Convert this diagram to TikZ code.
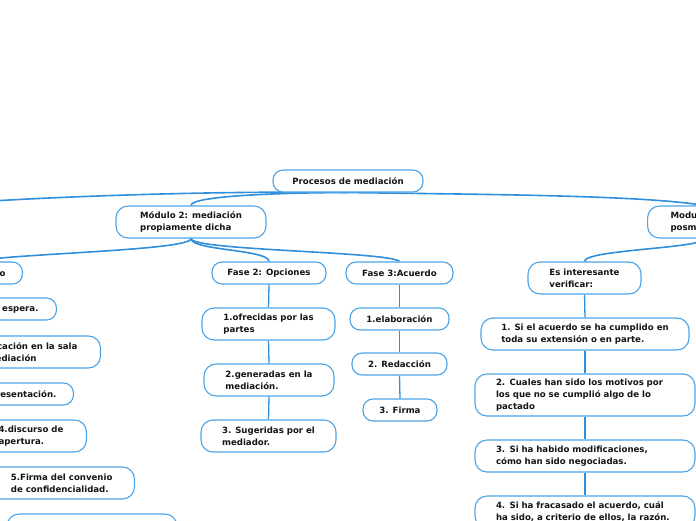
\documentclass[tikz,border=0pt]{standalone}
\usepackage{fontspec}
\setmainfont{DejaVu Sans}
\usetikzlibrary{backgrounds}
\definecolor{bblue}{HTML}{4AA3E6}
\definecolor{lblue}{HTML}{2F8FDC}
\definecolor{tblack}{HTML}{141414}
\begin{document}
\begin{tikzpicture}[x=1pt,y=-1pt,
  bx/.style={draw=bblue, line width=1.1pt, fill=white, rounded corners=12pt, align=left,
    inner xsep=5pt, inner ysep=1pt, text=tblack,
    font=\bfseries\fontsize{8.6}{11.7}\selectfont},
  sm/.style={bx, rounded corners=10pt, minimum height=22pt},
  lg/.style={bx, minimum height=32pt},
  wide/.style={bx, text width=178pt, inner xsep=21pt},
  conn/.style={draw=lblue, line width=1.6pt},
  vconn/.style={draw=lblue, line width=1.3pt}]
\useasboundingbox (0,0) rectangle (696,520);
% level 0 and 1
\node[sm, minimum width=150pt] (root) at (348,181) {Procesos de mediación};
\coordinate (m1) at (-80,206);
\node[lg, minimum width=150pt] (m2) at (191,222) {Módulo 2: mediación\\propiamente dicha};
\node[lg, anchor=west, inner xsep=23pt] (m3) at (647,222) {Modulo 3:\\posmediación};
% phases
\node[sm, anchor=east, inner xsep=17pt] (f1) at (23,273) {Fase 1: Inicio};
\node[sm, minimum width=114pt] (f2) at (269,273) {Fase 2: Opciones};
\node[sm, minimum width=107pt] (f3) at (399.5,273) {Fase 3:Acuerdo};
\node[lg, minimum width=113pt] (es) at (584.5,278) {Es interesante\\verificar:};
% phase 1 items
\node[sm, anchor=east, inner xsep=18pt] (p1) at (57,309) {1.Sala de espera.};
\node[lg, anchor=east, inner xsep=23pt] (p2) at (101,352) {2.Ubicación en la sala\\de mediación};
\node[sm, anchor=east, inner xsep=17pt] (p3) at (74,394) {3.Presentación.};
\node[lg, anchor=east, inner xsep=23pt] (p4) at (87,436) {4.discurso de\\apertura.};
\node[lg, anchor=east, inner xsep=22pt] (p5) at (135,483) {5.Firma del convenio\\de confidencialidad.};
\node[lg, minimum width=170pt] (p6) at (92,530) {};
% phase 2 items
\node[lg, minimum width=133pt] (o1) at (268.5,324) {1.ofrecidas por las\\partes};
\node[lg, minimum width=130pt] (o2) at (269,380) {2.generadas en la\\mediación.};
\node[lg, minimum width=135pt] (o3) at (268.5,436) {3. Sugeridas por el\\mediador.};
% phase 3 items
\node[sm, minimum width=99pt] (a1) at (399.5,319) {1.elaboración};
\node[sm, minimum width=95pt] (a2) at (399.5,364) {2. Redacción};
\node[sm, minimum width=74pt] (a3) at (400,410) {3. Firma};
% verification items
\node[lg, minimum width=208pt] (v1) at (585,334) {1. Si el acuerdo se ha cumplido en\\toda su extensión o en parte.};
\node[wide, minimum height=42pt] (v2) at (585,395) {2. Cuales han sido los motivos por\\los que no se cumplió algo de lo\\pactado};
\node[wide, minimum height=32pt] (v3) at (585,456) {3. Si ha habido modificaciones,\\cómo han sido negociadas.};
\node[wide, minimum height=32pt] (v4) at (585,512) {4. Si ha fracasado el acuerdo, cuál\\ha sido, a criterio de ellos, la razón.};
% connectors
\begin{scope}[on background layer]
\draw[conn] (root.south) .. controls +(-120,-2) and +(120,-10) .. (m1);
\draw[conn] (root.south) .. controls +(-60,0) and +(0,-10) .. (m2.north);
\draw[conn] (root.south) .. controls +(150,2) and +(-60,-10) .. (m3.north);
\draw[conn] (m2.south) .. controls +(0,12) and +(40,-8) .. (f1.north);
\draw[conn] (m2.south) .. controls +(0,12) and +(0,-12) .. (f2.north);
\draw[conn] (m2.south) .. controls +(0,12) and +(-10,-10) .. (f3.north);
\draw[conn] (m3.south) .. controls +(0,10) and +(0,-12) .. (es.north);
\draw[vconn] (f2.south) -- (o1.north);
\draw[vconn] (o1.south) -- (o2.north);
\draw[vconn] (o2.south) -- (o3.north);
\draw[vconn] (f3.south) -- (a1.north);
\draw[vconn] (a1.south) -- (a2.north);
\draw[vconn] (a2.south) -- (a3.north);
\draw[vconn] (es.south) -- (v1.north);
\draw[vconn] (v1.south) -- (v2.north);
\draw[vconn] (v2.south) -- (v3.north);
\draw[vconn] (v3.south) -- (v4.north);
\end{scope}
\end{tikzpicture}
\end{document}
